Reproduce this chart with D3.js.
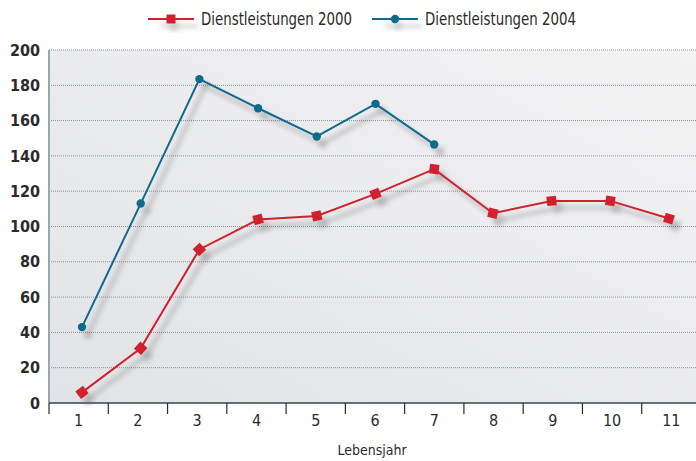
<!DOCTYPE html>
<html>
<head>
<meta charset="utf-8">
<script src="https://cdn.jsdelivr.net/npm/d3@7/dist/d3.min.js"></script>
<style>
  body { margin: 0; background: #fff; }
  text { font-family: "Liberation Sans Narrow", "DejaVu Sans Condensed", sans-serif; fill: #2b2b2b; }
</style>
</head>
<body>
<script>
var jahre = [1, 2, 3, 4, 5, 6, 7, 8, 9, 10, 11]
var dienst2000 = [6, 31, 87, 104, 106, 118.5, 132.5, 107.5, 114.5, 114.5, 104.5]
var dienst2004 = [43, 113, 183.5, 167, 151, 169.5, 146.5]
var yTicks = [0, 20, 40, 60, 80, 100, 120, 140, 160, 180, 200]
var serien = [
    {name: "Dienstleistungen  2000", werte: dienst2000, farbe: "#d3202f", symbol: "square"},
    {name: "Dienstleistungen  2004", werte: dienst2004, farbe: "#0e6b8c", symbol: "circle"}
]

var w = 696
var h = 461
var pLeft = 49, pTop = 50, pBottom = 403, pRight = 701

var svg = d3.select("body").append("svg")
    .attr("width", w)
    .attr("height", h)

var defs = svg.append("defs")
var grad = defs.append("linearGradient").attr("id", "bg")
    .attr("x1", "0").attr("y1", "1").attr("x2", "1").attr("y2", "0")
grad.append("stop").attr("offset", "0").attr("stop-color", "#e2e3e6")
grad.append("stop").attr("offset", "1").attr("stop-color", "#f3f3f4")

var shadow = defs.append("filter").attr("id", "schatten")
    .attr("x", "-20%").attr("y", "-20%").attr("width", "140%").attr("height", "140%")
shadow.append("feGaussianBlur").attr("stdDeviation", 2.5)

// achse (kategorien) und punkte liegen leicht versetzt
var xScale = d3.scaleBand().domain(jahre).range([pLeft, pRight])
var xPoint = d3.scalePoint().domain(jahre).range([82, 669])
var yScale = d3.scaleLinear().domain([0, 200]).range([pBottom, pTop])

// hintergrund
svg.append("rect")
    .attr("x", pLeft).attr("y", pTop)
    .attr("width", w - pLeft).attr("height", pBottom - pTop)
    .attr("fill", "url(#bg)")

// gitterlinien
svg.append("g").selectAll("line").data(yTicks.slice(1)).enter()
    .append("line")
    .attr("x1", pLeft).attr("x2", w)
    .attr("y1", function (d) { return yScale(d) })
    .attr("y2", function (d) { return yScale(d) })
    .attr("stroke", "#8a8f94")
    .attr("stroke-width", 1)
    .attr("stroke-dasharray", "1,1")

// linke achse
svg.append("line")
    .attr("x1", pLeft).attr("x2", pLeft).attr("y1", pTop).attr("y2", pBottom)
    .attr("stroke", "#9aa7b3").attr("stroke-width", 2)

var yAxis = d3.axisLeft(yScale).tickValues(yTicks).tickSize(0).tickPadding(9)
svg.append("g")
    .attr("transform", "translate(" + pLeft + ",0)")
    .call(yAxis)
    .call(function (g) { g.select(".domain").remove() })
    .selectAll("text")
    .style("font-size", "16px")
    .style("font-weight", "bold")
    .style("font-family", "'Liberation Sans Narrow', 'DejaVu Sans Condensed', sans-serif")
    .attr("fill", "#2b2b2b")

// untere achse
var xAxis = d3.axisBottom(xScale).tickSize(0).tickPadding(12)
var xg = svg.append("g")
    .attr("transform", "translate(0," + pBottom + ")")
    .call(xAxis)
xg.select(".domain").remove()
xg.selectAll("text")
    .style("font-size", "16px")
    .style("font-family", "'Liberation Sans Narrow', 'DejaVu Sans Condensed', sans-serif")
    .attr("fill", "#2b2b2b")

svg.append("line")
    .attr("x1", pLeft).attr("x2", w).attr("y1", pBottom).attr("y2", pBottom)
    .attr("stroke", "#3a4650").attr("stroke-width", 1.5)

svg.append("g").selectAll("line").data(jahre).enter()
    .append("line")
    .attr("x1", function (d) { return xScale(d) })
    .attr("x2", function (d) { return xScale(d) })
    .attr("y1", pBottom).attr("y2", pBottom + 11)
    .attr("stroke", "#2b2b2b").attr("stroke-width", 1.2)

svg.append("text")
    .attr("x", 372).attr("y", 455)
    .attr("text-anchor", "middle")
    .style("font-size", "14px")
    .text("Lebensjahr")

var line = d3.line()
    .x(function (d, i) { return xPoint(jahre[i]) })
    .y(function (d) { return yScale(d) })

// winkel des quadrats folgt der linie
function winkel(werte, i) {
    var a = [], p
    if (i > 0) a.push(Math.atan2(yScale(werte[i]) - yScale(werte[i - 1]), xPoint(jahre[i]) - xPoint(jahre[i - 1])))
    if (i < werte.length - 1) a.push(Math.atan2(yScale(werte[i + 1]) - yScale(werte[i]), xPoint(jahre[i + 1]) - xPoint(jahre[i])))
    p = d3.mean(a)
    return p * 180 / Math.PI
}

serien.forEach(function (s) {
    var sym = d3.symbol().type(s.symbol === "square" ? d3.symbolSquare : d3.symbolCircle)
        .size(s.symbol === "square" ? 90 : 55)
    function pos(d, i) {
        var t = "translate(" + xPoint(jahre[i]) + "," + yScale(d) + ")"
        return s.symbol === "square" ? t + " rotate(" + winkel(s.werte, i) + ")" : t
    }

    // schatten
    var sg = svg.append("g")
        .attr("transform", "translate(6,7)")
        .attr("filter", "url(#schatten)")
        .attr("opacity", 0.35)
    sg.append("path").attr("d", line(s.werte))
        .attr("fill", "none").attr("stroke", "#555").attr("stroke-width", 3)
    sg.selectAll("path.p").data(s.werte).enter().append("path").attr("class", "p")
        .attr("d", sym)
        .attr("transform", pos)
        .attr("fill", "#555")

    svg.append("path").attr("d", line(s.werte))
        .attr("fill", "none").attr("stroke", s.farbe).attr("stroke-width", 2)
    svg.append("g").selectAll("path").data(s.werte).enter().append("path")
        .attr("d", sym)
        .attr("transform", pos)
        .attr("fill", s.farbe)
})

// legende
var legX = [148, 372]
serien.forEach(function (s, i) {
    var g = svg.append("g").attr("transform", "translate(" + legX[i] + ",19)")
    var sym = d3.symbol().type(s.symbol === "square" ? d3.symbolSquare : d3.symbolCircle)
        .size(s.symbol === "square" ? 81 : 55)
    var sg = g.append("g").attr("transform", "translate(3,7)")
        .attr("filter", "url(#schatten)").attr("opacity", 0.3)
    sg.append("line").attr("x1", 10).attr("x2", 47).attr("stroke", "#555").attr("stroke-width", 3)
    sg.append("path").attr("d", sym).attr("transform", "translate(23,0)").attr("fill", "#555")
    g.append("line").attr("x1", 0).attr("x2", 46)
        .attr("stroke", s.farbe).attr("stroke-width", 2)
    g.append("path").attr("d", sym).attr("transform", "translate(23,0)").attr("fill", s.farbe)
    g.append("text").attr("x", 53).attr("y", 6)
        .style("font-size", "17px")
        .attr("textLength", 151)
        .attr("lengthAdjust", "spacingAndGlyphs")
        .text(s.name)
})
</script>
</body>
</html>
